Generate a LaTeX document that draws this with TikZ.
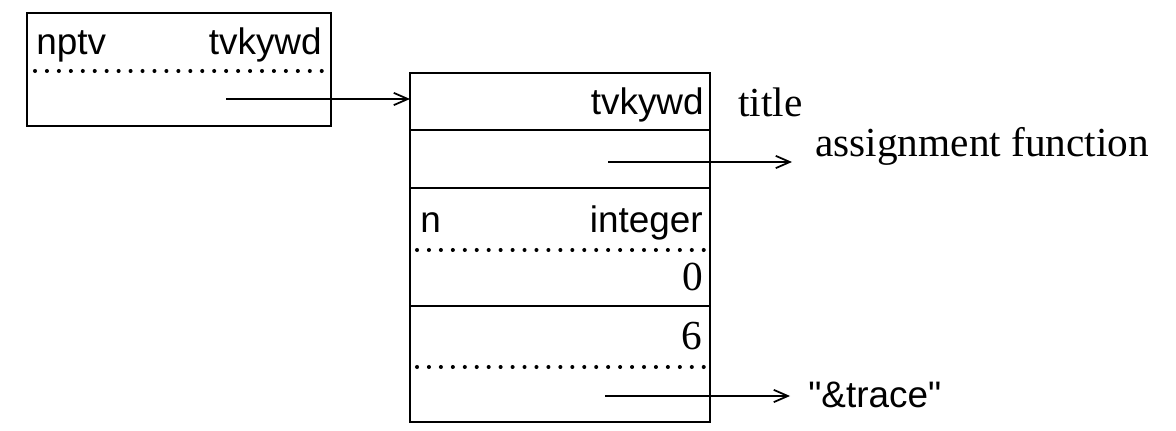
\documentclass[tikz,border=0pt]{standalone}
\usepackage{fontspec}
\setmainfont{Liberation Serif}
\setsansfont{Liberation Sans}
\newfontfamily\rawsans{Liberation Sans}
\usetikzlibrary{arrows.meta}

\tikzset{
  recbox/.style={draw, line width=1.3pt, inner sep=0pt, outer sep=0pt},
  field/.style={font=\rawsans\fontsize{21}{24}\selectfont, inner sep=0pt},
  value/.style={font=\fontsize{23.5}{26}\selectfont, inner sep=0pt},
  dotline/.style={line width=2.3pt, line cap=round, dash pattern=on 0pt off 6.8pt},
  ptr/.style={line width=1pt, -{Straight Barb[length=8pt,width=7pt]}}
}

\begin{document}
\begin{tikzpicture}[x=0.02cm,y=-0.02cm]
\useasboundingbox (0,0) rectangle (1176,431);
% left record
\node[recbox, minimum width=6.08cm, minimum height=2.26cm, anchor=north west] (lrec) at (27,13) {};
\draw[dotline] (35,71) -- (325,71);
\node[field, anchor=base west] (nptv) at (36,55) {nptv};
\node[field, anchor=base east] (lkw) at (322,55) {tvkywd};
\coordinate (src1) at (226,99);
% right record
\node[recbox, minimum width=6cm, minimum height=6.98cm, anchor=north west] (rrec) at (410,73) {};
\foreach \y in {130,188,306}
  \draw[line width=1.3pt] (410,\y) -- (710,\y);
\draw[dotline] (417,250) -- (704,250);
\draw[dotline] (417,367) -- (704,367);
\node[field, anchor=base east] (rkw) at (704,115) {tvkywd};
\node[value, anchor=base west] (title) at (738,117) {title};
\node[value, anchor=base west] (afn) at (815,157) {assignment function};
\node[field, anchor=base west] (n) at (420,233) {n};
\node[field, anchor=base east] (int) at (703,233) {integer};
\node[value, anchor=base east] (zero) at (703,291) {0};
\node[value, anchor=base east] (six) at (702,350) {6};
\node[field, anchor=base west] (trace) at (808,408) {"\&trace"};
\coordinate (src2) at (608,162);
\coordinate (tip2) at (792,162);
\coordinate (src3) at (605,396);
\coordinate (tip3) at (790,396);
% pointers
\draw[ptr] (src1) -- (src1 -| rrec.west);
\draw[ptr] (src2) -- (tip2);
\draw[ptr] (src3) -- (tip3);
\end{tikzpicture}
\end{document}
